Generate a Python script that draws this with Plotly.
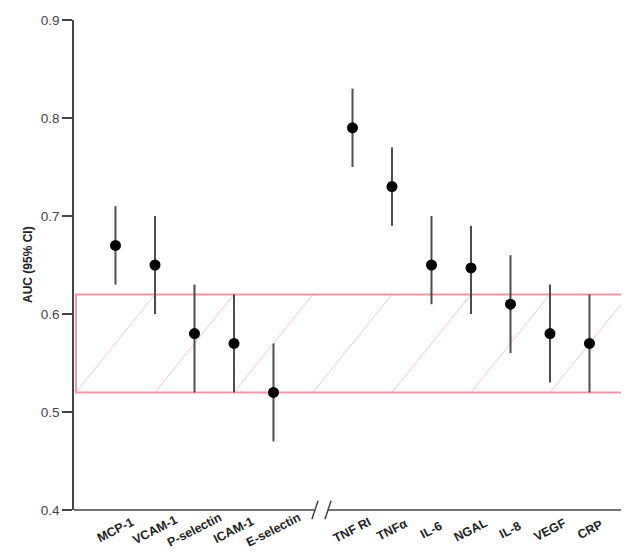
import plotly.graph_objects as go

categories = ["MCP-1", "VCAM-1", "P-selectin", "ICAM-1", "E-selectin",
              "TNF RI", "TNFα", "IL-6", "NGAL", "IL-8", "VEGF", "CRP"]
auc = [0.67, 0.65, 0.58, 0.57, 0.52, 0.79, 0.73, 0.65, 0.647, 0.61, 0.58, 0.57]
ci_low = [0.63, 0.60, 0.52, 0.52, 0.47, 0.75, 0.69, 0.61, 0.60, 0.56, 0.53, 0.52]
ci_high = [0.71, 0.70, 0.63, 0.62, 0.57, 0.83, 0.77, 0.70, 0.69, 0.66, 0.63, 0.62]
band = [0.52, 0.62]
y_ticks = [0.4, 0.5, 0.6, 0.7, 0.8, 0.9]

# positions: first group of 5, an empty slot for the axis break, then the rest
n_first = 5
xpos = [i if i < n_first else i + 1 for i in range(len(categories))]
xr = [-1.05, 13.0]
box_x = [-1, 12.93]
brk = [5.05, 5.38]

def to_paper(x):
    return (x - xr[0]) / (xr[1] - xr[0])

AX = "#444444"
PINK = "rgb(240,150,170)"
PINK_L = "rgb(248,196,206)"

fig = go.Figure()
fig.add_trace(go.Scatter(
    x=xpos, y=auc, mode="markers",
    marker=dict(size=11, color="black"),
    error_y=dict(type="data", symmetric=False,
                 array=[h - a for h, a in zip(ci_high, auc)],
                 arrayminus=[a - l for a, l in zip(auc, ci_low)],
                 color="#4d4d4d", thickness=2, width=0),
    showlegend=False, hoverinfo="skip",
))

shapes = []
# hatch lines inside the reference band (slope: 2 slots per band height)
k = box_x[0]
while k < box_x[1]:
    x_end = min(k + 2, box_x[1])
    y_end = band[0] + (band[1] - band[0]) * (x_end - k) / 2
    shapes.append(dict(type="line", xref="x", yref="y", x0=k, y0=band[0],
                       x1=x_end, y1=y_end, layer="below",
                       line=dict(color=PINK_L, width=1)))
    k += 2
# band rectangle
shapes.append(dict(type="rect", xref="x", yref="y", x0=box_x[0], x1=box_x[1],
                   y0=band[0], y1=band[1], layer="below",
                   line=dict(color=PINK, width=2), fillcolor="rgba(0,0,0,0)"))
# broken x axis line
shapes.append(dict(type="line", xref="paper", yref="paper", x0=0, y0=0,
                   x1=to_paper(brk[0]), y1=0, line=dict(color=AX, width=1.5)))
shapes.append(dict(type="line", xref="paper", yref="paper", x0=to_paper(brk[1]), y0=0,
                   x1=1, y1=0, line=dict(color=AX, width=1.5)))
for c in brk:
    p = to_paper(c)
    shapes.append(dict(type="line", xref="paper", yref="paper",
                       x0=p - 0.0055, y0=-0.019, x1=p + 0.0055, y1=0.019,
                       line=dict(color=AX, width=1.5)))

annotations = []
for x, lab in zip(xpos, categories):
    annotations.append(dict(x=x, xref="x", y=0, yref="paper", yshift=-20,
                            text="<b>" + lab + "</b>", showarrow=False,
                            textangle=-27, xanchor="center", yanchor="middle",
                            font=dict(family="Arial, Liberation Sans", size=12.5, color="#222222")))
annotations.append(dict(x=0, xref="paper", xshift=-46, y=0.5, yref="paper",
                        text="<b>AUC (95% CI)</b>", showarrow=False, textangle=-90,
                        xanchor="center", yanchor="middle",
                        font=dict(family="Arial, Liberation Sans", size=12, color="#222222")))

fig.update_layout(
    width=621, height=544,
    margin=dict(l=66, r=0, t=12, b=42),
    paper_bgcolor="white", plot_bgcolor="white",
    shapes=shapes, annotations=annotations,
    xaxis=dict(range=xr, showticklabels=False, showgrid=False, zeroline=False,
               showline=False, ticks=""),
    yaxis=dict(range=[0.4, 0.9], tickvals=y_ticks, ticktext=[f"{v:.1f}" for v in y_ticks],
               ticks="outside", ticklen=10, tickwidth=1.5, tickcolor=AX,
               showline=True, linecolor=AX, linewidth=1.5, showgrid=False, zeroline=False,
               tickfont=dict(family="Arial, Liberation Sans", size=13.5, color="#444444")),
)

fig.write_html("out.html")
